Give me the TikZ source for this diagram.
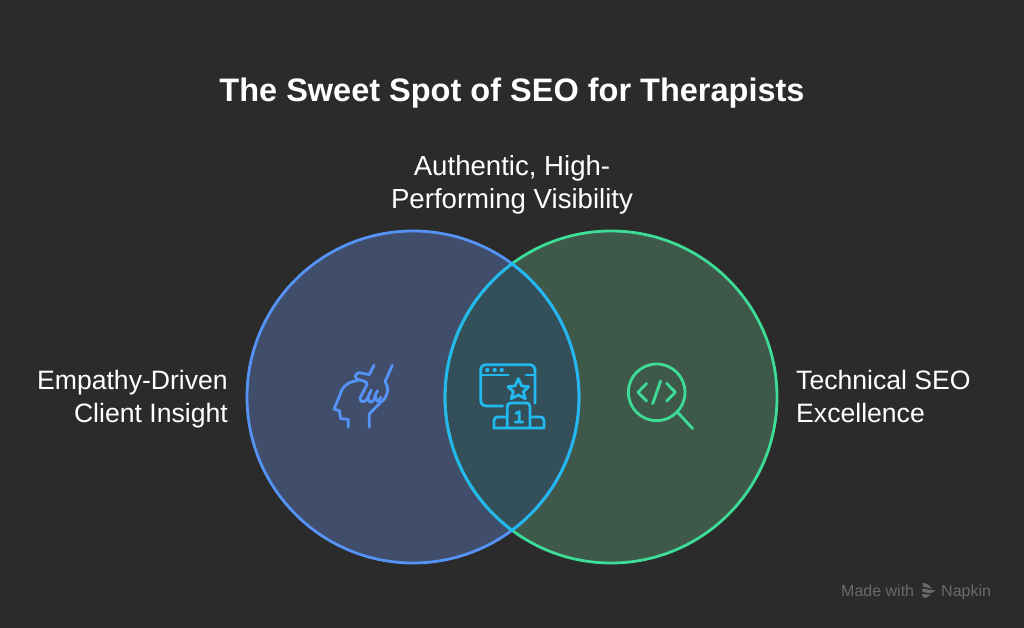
\documentclass[tikz,border=0pt]{standalone}
\usepackage{fontspec}
\setmainfont{Liberation Sans}
\usetikzlibrary{positioning}
\definecolor{bgdark}{HTML}{2B2B2B}
\definecolor{leftfill}{HTML}{404D6B}
\definecolor{rightfill}{HTML}{3E594A}
\definecolor{midfill}{HTML}{33505A}
\definecolor{leftline}{HTML}{5593F7}
\definecolor{rightline}{HTML}{3DDC97}
\definecolor{midline}{HTML}{22B8F0}
\definecolor{brandgray}{HTML}{6A6A6A}
\tikzstyle{venn} = [circle, minimum size=332pt, inner sep=0pt]
\tikzstyle{label} = [text=white, font=\fontsize{26.6}{33}\selectfont, inner sep=0pt]
\tikzstyle{icon} = [line width=2.8pt, line cap=round, line join=round]
\tikzstyle{brand} = [text=brandgray, font=\fontsize{16}{18}\selectfont, inner sep=0pt]

\begin{document}
\begin{tikzpicture}[x=1pt, y=-1pt]
    \useasboundingbox [fill=bgdark] (0,0) rectangle (1024,628);
    % Circles
    \node [venn, fill=leftfill] (client) at (413,397) {};
    \node [venn, fill=rightfill] (tech) at (611,397) {};
    \begin{scope}
        \clip (413,397) circle (166pt);
        \fill [midfill] (611,397) circle (166pt);
    \end{scope}
    \draw [leftline, line width=2.8pt] (413,397) circle (166pt);
    \draw [rightline, line width=2.8pt] (611,397) circle (166pt);
    \begin{scope}
        \clip (413,397) circle (167.4pt);
        \draw [midline, line width=2.8pt] (611,397) circle (166pt);
    \end{scope}
    \begin{scope}
        \clip (611,397) circle (167.4pt);
        \draw [midline, line width=2.8pt] (413,397) circle (166pt);
    \end{scope}
    % Labels
    \node [text=white, font=\bfseries\fontsize{32.5}{38}\selectfont, inner sep=0pt] (title) at (512,93) {The Sweet Spot of SEO for Therapists};
    \node [label, align=center, font=\fontsize{27.6}{33}\selectfont] (visibility) at (512,185) {Authentic, High-\\Performing Visibility};
    \node [label, align=right, anchor=east] (insight) at (228,399) {Empathy-Driven\\Client Insight};
    \node [label, align=left, anchor=west] (excellence) at (796,396) {Technical SEO\\Excellence};
    % Head and hand
    \begin{scope}[shift={(310,340)}, x=0.3333pt, y=-0.3333pt, leftline, icon]
        \draw (115,262) -- (115,238) -- (92,236) -- (88,212) -- (72,207) -- (90,165)
            .. controls (95,140) and (115,125) .. (142,122);
        \draw (178,262) -- (178,222) -- (195,204);
        \draw (192,76) -- (178,104) -- (148,98) .. controls (135,100) and (130,115) .. (148,120)
            .. controls (170,123) and (175,130) .. (168,140) -- (150,174)
            .. controls (150,190) and (168,190) .. (175,169) -- (184,150);
        \draw (175,169) .. controls (172,192) and (190,195) .. (196,165) -- (203,152);
        \draw (196,165) .. controls (198,190) and (206,190) .. (212,172);
        \draw (195,204) -- (222,178) .. controls (238,155) and (235,140) .. (225,125) -- (247,76);
    \end{scope}
    % Window and podium
    \begin{scope}[shift={(460,350)}, x=0.3333pt, y=-0.3333pt, midline, icon]
        \draw (225,160) -- (225,62) .. controls (225,50) and (218,44) .. (208,44)
            -- (80,44) .. controls (68,44) and (62,50) .. (62,62) -- (62,150)
            .. controls (62,162) and (70,168) .. (80,168) -- (128,168);
        \draw (62,75) -- (145,75);
        \draw (198,75) -- (225,75);
        \fill (82,60) circle (6.5) (104,60) circle (6.5) (125,60) circle (6.5);
        \draw (175,86) -- (185,108) -- (206,110) -- (190,125) -- (196,146) -- (175,135)
            -- (154,146) -- (160,125) -- (144,110) -- (165,108) -- cycle;
        \draw (102,234) -- (102,212) .. controls (102,205) and (106,201) .. (112,201) -- (142,201);
        \draw (142,234) -- (142,170) .. controls (142,163) and (146,159) .. (152,159)
            -- (200,159) .. controls (206,159) and (210,163) .. (210,170) -- (210,234);
        \draw (210,201) -- (242,201) .. controls (248,201) and (252,205) .. (252,212) -- (252,234) -- (102,234);
        \draw (168,190) -- (178,185) -- (178,216) (166,216) -- (188,216);
    \end{scope}
    % Magnifier
    \begin{scope}[shift={(610,350)}, x=0.3333pt, y=-0.3333pt, rightline, icon]
        \draw (140,127) circle (85);
        \draw (203,187) -- (248,236);
        \draw (110,100) -- (84,127) -- (110,153);
        \draw (170,100) -- (196,127) -- (170,153);
        \draw (152,93) -- (128,161);
    \end{scope}
    % Brand
    \node [brand, anchor=base west] (made) at (841,596) {Made with};
    \node [brand, anchor=base west] (napkin) at (941,596) {Napkin};
    \begin{scope}[shift={(830,570)}, x=0.3333pt, y=-0.3333pt]
        \fill [brandgray] (278,38) -- (292,42) -- (306,56) -- (280,50) -- cycle;
        \fill [brandgray] (276,56) -- (318,62) -- (300,70) -- (278,66) -- cycle;
        \fill [brandgray] (276,72) -- (302,74) -- (288,84) -- (278,80) -- cycle;
    \end{scope}
\end{tikzpicture}
\end{document}
